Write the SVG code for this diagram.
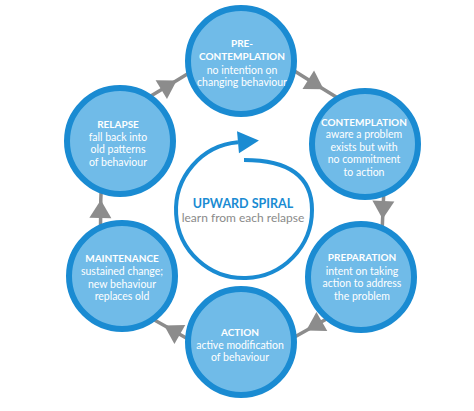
<svg xmlns="http://www.w3.org/2000/svg" width="474" height="411" viewBox="0 0 474 411">
  <style>
    .ring { fill: #70bbe8; stroke: #1a8bd2; stroke-width: 6; }
    .t { font-family: Lato, "Open Sans", sans-serif; fill: #ffffff; text-anchor: middle; }
    .h { font-weight: bold; font-size: 10px; }
    .b { font-size: 10.5px; }
    .conn { fill: none; stroke: #8c8c8c; stroke-width: 3.5; marker-mid: url(#tri); }
  </style>
  <defs>
    <marker id="tri" markerUnits="userSpaceOnUse" markerWidth="24" markerHeight="24" viewBox="-20 -12 24 24" refX="0" refY="0" orient="auto">
      <path d="M-18,-11 L0,0 L-18,11 Z" fill="#8c8c8c"/>
    </marker>
    <marker id="bluetri" markerUnits="userSpaceOnUse" markerWidth="26" markerHeight="26" viewBox="-2 -13 26 26" refX="0" refY="0" orient="auto">
      <path d="M0,-11 L21,0 L0,11 Z" fill="#1a8bd2"/>
    </marker>
  </defs>
  <rect width="474" height="411" fill="#ffffff"/>

  <g id="connectors">
    <polyline class="conn" points="290.5,68.6 323.6,89.2 341.5,100.2"/>
    <polyline class="conn" points="384.3,181 382.6,219 381.7,241"/>
    <polyline class="conn" points="340.1,311.2 306.2,330.4 287.9,340.8"/>
    <polyline class="conn" points="198.1,344.8 164.2,325.6 145.9,315.2"/>
    <polyline class="conn" points="100.4,239 100.8,200 101.6,179"/>
    <polyline class="conn" points="143.3,100.5 176.7,80.4 194.7,69.5"/>
  </g>

  <g id="precontemplation">
    <circle class="ring" cx="241" cy="61" r="53"/>
    <text class="t h" x="242" y="47">PRE-</text>
    <text class="t h" x="242" y="60">CONTEMPLATION</text>
    <text class="t b" x="242" y="73.5">no intention on</text>
    <text class="t b" x="242" y="86">changing behaviour</text>
  </g>

  <g id="contemplation">
    <circle class="ring" cx="365" cy="144" r="53"/>
    <text class="t h" x="364" y="125.5">CONTEMPLATION</text>
    <text class="t b" x="364" y="138">aware a problem</text>
    <text class="t b" x="364" y="150.5">exists but with</text>
    <text class="t b" x="364" y="163">no commitment</text>
    <text class="t b" x="364" y="175.5">to action</text>
  </g>

  <g id="preparation">
    <circle class="ring" cx="361" cy="277" r="53"/>
    <text class="t h" x="362" y="261">PREPARATION</text>
    <text class="t b" x="362" y="274.5">intent on taking</text>
    <text class="t b" x="362" y="287">action to address</text>
    <text class="t b" x="362" y="299.5">the problem</text>
  </g>

  <g id="action">
    <circle class="ring" cx="241" cy="342" r="53"/>
    <text class="t h" x="240" y="336">ACTION</text>
    <text class="t b" x="240" y="348.5">active modification</text>
    <text class="t b" x="240" y="361">of behaviour</text>
  </g>

  <g id="maintenance">
    <circle class="ring" cx="122" cy="276" r="53"/>
    <text class="t h" x="122" y="262">MAINTENANCE</text>
    <text class="t b" x="122" y="275">sustained change;</text>
    <text class="t b" x="122" y="287.5">new behaviour</text>
    <text class="t b" x="122" y="300">replaces old</text>
  </g>

  <g id="relapse">
    <circle class="ring" cx="120" cy="141" r="53"/>
    <text class="t h" x="118" y="128">RELAPSE</text>
    <text class="t b" x="118" y="141">fall back into</text>
    <text class="t b" x="118" y="153">old patterns</text>
    <text class="t b" x="118" y="166">of behaviour</text>
  </g>

  <g id="upward-spiral">
    <path d="M244,160 Q312,160 312,210 A68,68 0 1 1 238,142.3" fill="none" stroke="#1a8bd2" stroke-width="4" marker-end="url(#bluetri)"/>
    <text x="243" y="208" font-family="Lato, 'Open Sans', sans-serif" font-weight="bold" font-size="12.5" fill="#1a8bd2" text-anchor="middle">UPWARD SPIRAL</text>
    <text x="243" y="222" font-family="Lato, 'Open Sans', sans-serif" font-size="12" fill="#8a8a8a" text-anchor="middle">learn from each relapse</text>
  </g>
</svg>
